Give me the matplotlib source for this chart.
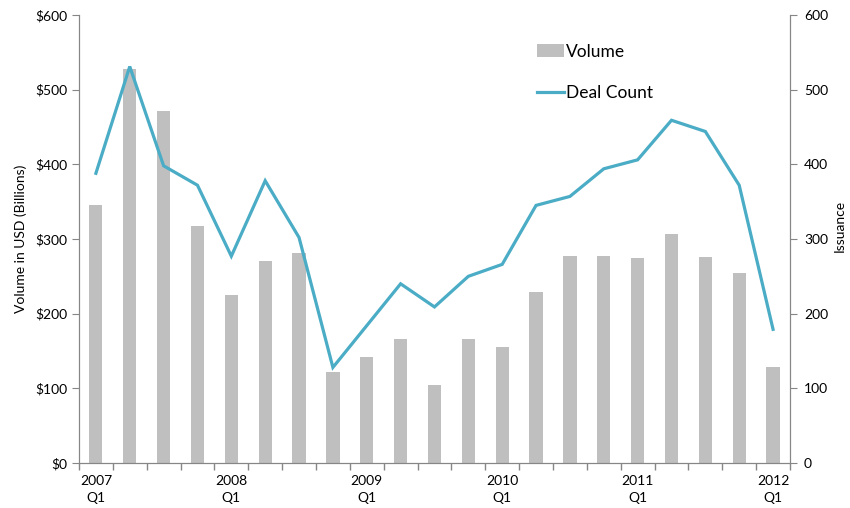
import matplotlib
matplotlib.use("Agg")
import matplotlib.pyplot as plt
import numpy as np

plt.rcParams['font.family'] = ['Lato', 'DejaVu Sans']

# quarterly data, 2007 Q1 .. 2012 Q1
quarters = [f"{y} Q{q}" for y in range(2007, 2013) for q in range(1, 5)][:21]
volume = [345, 528, 472, 317, 225, 270, 281, 122, 142, 166, 105,
          166, 155, 229, 277, 277, 274, 307, 276, 255, 129]
deal_count = [388, 531, 398, 372, 277, 378, 302, 128, 184, 240, 209,
              250, 266, 345, 357, 394, 406, 459, 444, 372, 179]
year_labels = ["2007\nQ1", "2008\nQ1", "2009\nQ1", "2010\nQ1", "2011\nQ1", "2012\nQ1"]

bar_color = "#BFBFBF"
line_color = "#4BACC6"
axis_color = "#868686"

fig = plt.figure(figsize=(8.5, 5.08), dpi=100)
ax = fig.add_axes([0.0929, 0.0886, 0.8365, 0.8819])
ax2 = ax.twinx()

x = np.arange(len(quarters))
ax.bar(x, volume, width=0.39, color=bar_color, label="Volume", zorder=2)
ax2.plot(x, deal_count, color=line_color, lw=2.3, label="Deal Count",
         solid_joinstyle="miter", zorder=3)

ax.set_xlim(-0.5, len(quarters) - 0.5)
ax.set_ylim(0, 600)
ax2.set_ylim(0, 600)
ax.set_yticks(range(0, 601, 100))
ax.set_yticklabels([f"${v}" for v in range(0, 601, 100)])
ax2.set_yticks(range(0, 601, 100))

# year labels under Q1 of each year, tick marks between categories
ax.set_xticks(x[::4])
ax.set_xticklabels(year_labels, linespacing=1.45)
ax.set_xticks(np.arange(-0.5, len(quarters), 1.0), minor=True)
ax.tick_params(axis="x", which="major", length=0, pad=9)
ax.tick_params(axis="x", which="minor", length=5, color=axis_color, width=1)

for a in (ax, ax2):
    a.spines["top"].set_visible(False)
    for s in ("left", "right", "bottom"):
        a.spines[s].set_color(axis_color)
    a.tick_params(axis="y", length=5, color=axis_color, labelsize=10)
ax.tick_params(axis="x", labelsize=10)
ax2.tick_params(axis="y", pad=5)

ax.set_ylabel("Volume in USD (Billions)", fontsize=10, labelpad=6)
ax2.set_ylabel("Issuance", fontsize=10)
ax2.yaxis.set_label_coords(1.061, 0.53)

h1, l1 = ax.get_legend_handles_labels()
h2, l2 = ax2.get_legend_handles_labels()
ax2.legend(h1 + h2, l1 + l2, loc="upper left", bbox_to_anchor=(0.613, 0.945),
           bbox_transform=fig.transFigure, frameon=False, fontsize=12.5,
           handlelength=1.6, handletextpad=0.1, labelspacing=1.45)

fig.savefig("out.png", dpi=100)
